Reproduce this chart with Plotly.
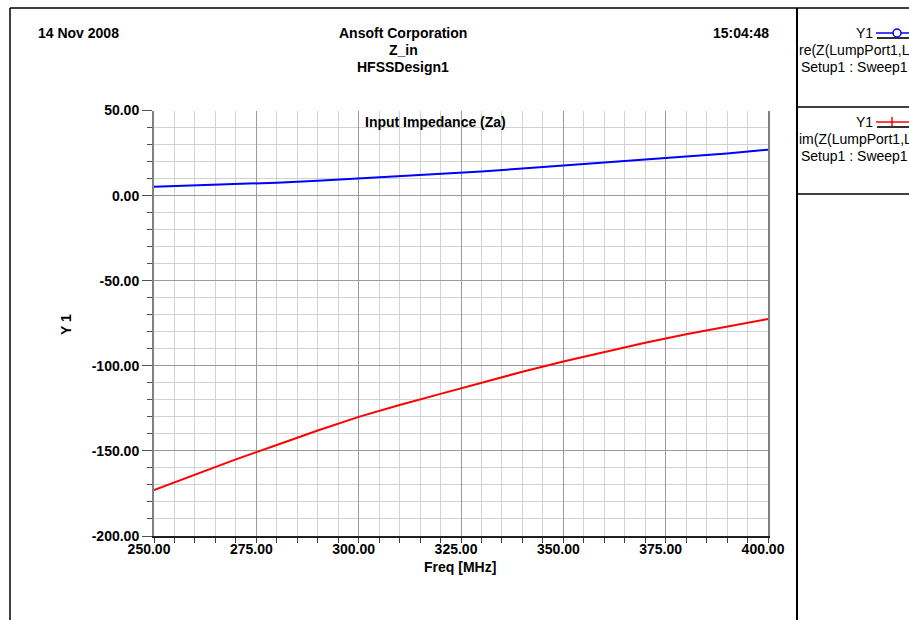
import plotly.graph_objects as go

# Frequency sweep (MHz) and input impedance components (ohm)
freq_mhz = [250, 260, 270, 280, 290, 300, 310, 320, 330, 340, 350, 360, 370, 380, 390, 400]
z_real = [5.2, 5.9, 6.7, 7.6, 8.7, 10.0, 11.3, 12.7, 14.2, 15.9, 17.6, 19.3, 21.0, 22.9, 24.8, 27.0]
z_imag = [-173.0, -164.0, -155.0, -146.5, -138.0, -130.0, -123.0, -116.5, -110.0, -103.5,
          -97.5, -92.0, -86.5, -81.5, -77.0, -72.5]

x_ticks = [250, 275, 300, 325, 350, 375, 400]
y_ticks = [-200, -150, -100, -50, 0, 50]

W, H = 909, 620
FONT = "Liberation Sans, Arial, sans-serif"


def px(x):
    return x / W


def py(y):
    return 1 - y / H


fig = go.Figure()
fig.add_trace(go.Scatter(x=freq_mhz, y=z_real, mode="lines",
                         line=dict(color="#0000ff", width=2), showlegend=False))
fig.add_trace(go.Scatter(x=freq_mhz, y=z_imag, mode="lines",
                         line=dict(color="#ff0000", width=2), showlegend=False))

axis_font = dict(family=FONT, size=14, color="#000000", weight="bold")

fig.update_xaxes(
    domain=[px(154), px(768)], range=[250, 400], automargin=False,
    tickvals=x_ticks, ticktext=[f"{v:.2f}" for v in x_ticks],
    ticks="outside", ticklen=5, tickcolor="#404040", tickwidth=1,
    ticklabelshift=-5, ticklabelstandoff=-6,
    showgrid=True, gridcolor="#9a9a9a", gridwidth=1,
    minor=dict(dtick=5, tick0=250, ticks="outside", ticklen=5, tickcolor="#404040",
               showgrid=True, gridcolor="#d2d2d2", gridwidth=1),
    showline=True, linecolor="#202020", linewidth=2,
    zeroline=False, tickfont=axis_font, fixedrange=True,
)
fig.update_yaxes(
    domain=[py(536), py(110.5)], range=[-200, 50], automargin=False,
    tickvals=y_ticks, ticktext=[f"{v:.2f}" for v in y_ticks],
    ticks="outside", ticklen=10, tickcolor="#505050", tickwidth=1,
    showgrid=True, gridcolor="#9a9a9a", gridwidth=1,
    minor=dict(dtick=10, tick0=0, ticks="outside", ticklen=5, tickcolor="#505050",
               showgrid=True, gridcolor="#d2d2d2", gridwidth=1),
    showline=True, linecolor="#808080", linewidth=2, mirror=True,
    zeroline=False, tickfont=axis_font, fixedrange=True,
)

ann = []


def text(x, y, s, anchor="center", bold=True, size=14, angle=0):
    ann.append(dict(x=px(x), y=py(y), xref="paper", yref="paper", text=s, showarrow=False,
                    xanchor=anchor, yanchor="middle", textangle=angle,
                    font=dict(family=FONT, size=size, color="#000000",
                              weight="bold" if bold else "normal")))


# Header block
text(36, 33, "14 Nov 2008", anchor="left")
text(403, 33, "Ansoft Corporation")
text(403, 50, "Z_in")
text(403, 67, "HFSSDesign1")
text(771, 33, "15:04:48", anchor="right")

# Plot title and axis titles
text(435, 122, "Input Impedance (Za)")
text(460, 567, "Freq [MHz]")
text(66, 325, "Y 1", angle=-90)

# Legend panel entries
text(875, 33, "Y1", anchor="right", bold=False)
text(797, 50, "re(Z(LumpPort1,LumpPort1))", anchor="left", bold=False)
text(799, 67, "Setup1 : Sweep1", anchor="left", bold=False)
text(875, 122, "Y1", anchor="right", bold=False)
text(797, 139, "im(Z(LumpPort1,LumpPort1))", anchor="left", bold=False)
text(799, 156, "Setup1 : Sweep1", anchor="left", bold=False)

shapes = []


def line(x0, y0, x1, y1, color="#000000", width=1):
    shapes.append(dict(type="line", xref="paper", yref="paper",
                       x0=px(x0), y0=py(y0), x1=px(x1), y1=py(y1),
                       line=dict(color=color, width=width)))


# Page frame and legend panel borders
line(10, 8, W, 8, width=1.5)
line(10, 8, 10, H, width=1.5)
line(797, 8, 797, H, width=2)
line(797, 107, W, 107, width=1.5)
line(797, 194, W, 194, width=1.5)

# Legend swatches
line(876, 33, W, 33, color="#0000ff", width=1.5)
line(877, 38, W, 38, color="#303030", width=2)
shapes.append(dict(type="circle", xref="paper", yref="paper",
                   x0=px(893), x1=px(901), y0=py(29), y1=py(37),
                   fillcolor="#ffffff", line=dict(color="#0000ff", width=1.5)))
line(876, 122, W, 122, color="#ff0000", width=1.5)
line(892, 117, 892, 127, color="#ff0000", width=1.5)
line(877, 127, W, 127, color="#303030", width=2)

fig.update_layout(
    width=W, height=H, autosize=False,
    margin=dict(l=0, r=0, t=0, b=0, pad=0, autoexpand=False),
    paper_bgcolor="#ffffff", plot_bgcolor="#ffffff",
    annotations=ann, shapes=shapes, showlegend=False,
)

fig.write_html("out.html", config=dict(displayModeBar=False))
